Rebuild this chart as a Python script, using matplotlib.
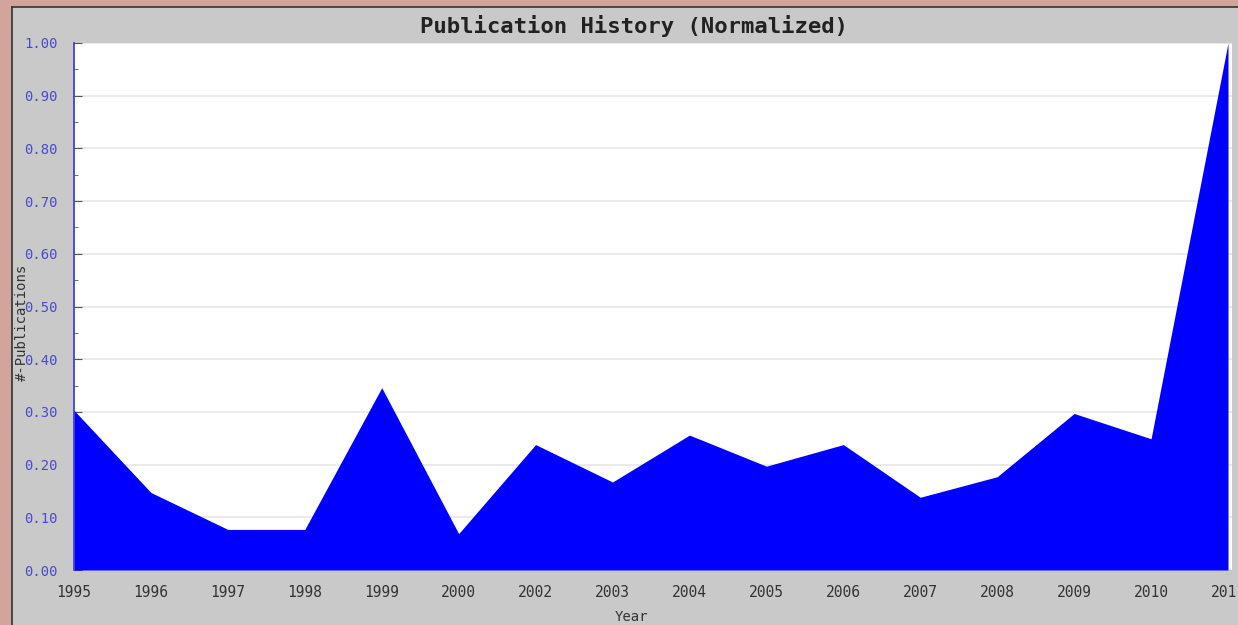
import matplotlib
matplotlib.use("Agg")
import matplotlib.pyplot as plt
from matplotlib.patches import Rectangle
import numpy as np

years = ["1995", "1996", "1997", "1998", "1999", "2000", "2002", "2003",
         "2004", "2005", "2006", "2007", "2008", "2009", "2010", "2011"]
values = [0.303, 0.147, 0.077, 0.077, 0.346, 0.069, 0.238, 0.167,
          0.256, 0.197, 0.238, 0.138, 0.177, 0.297, 0.249, 1.00]
yticks = [0.0, 0.1, 0.2, 0.3, 0.4, 0.5, 0.6, 0.7, 0.8, 0.9, 1.0]

W, H = 1238, 625
fig = plt.figure(figsize=(W / 100, H / 100), dpi=100)
fig.patch.set_facecolor("#d3a49b")

# gray panel
panel = Rectangle((12 / W, 0), 1 - 12 / W, 1 - 7 / H, transform=fig.transFigure,
                  facecolor="#c9c9c9", edgecolor="none", zorder=-5)
fig.add_artist(panel)
fig.add_artist(plt.Line2D([12 / W, 1], [1 - 7 / H, 1 - 7 / H], transform=fig.transFigure,
                          color="#333333", lw=1.2, zorder=-4))
fig.add_artist(plt.Line2D([12 / W, 12 / W], [0, 1 - 7 / H], transform=fig.transFigure,
                          color="#333333", lw=1.2, zorder=-4))

left, right, top, bottom = 74, 1232, 43, 570
ax = fig.add_axes([left / W, 1 - bottom / H, (right - left) / W, (bottom - top) / H])
ax.set_zorder(2)
ax.set_facecolor("white")

x = np.arange(len(years))
ax.fill_between(x, values, 0, color="#0000ff", lw=0, zorder=2)
ax.set_xlim(0, (right - left) / ((1228 - 74) / 15))
ax.set_ylim(0, 1.0)

ax.set_yticks(yticks)
ax.set_yticklabels([f"{v:.2f}" for v in yticks], color="#4a4acc",
                   fontfamily="DejaVu Sans Mono", fontsize=10)
ax.set_yticks(np.arange(0.05, 1.0, 0.1), minor=True)
ax.tick_params(axis="y", which="major", direction="in", length=6, color="#555555", pad=12)
ax.tick_params(axis="y", which="minor", direction="in", length=3, color="#555555")
ax.grid(axis="y", color="#e6e6e6", lw=1.2, zorder=1)
ax.set_axisbelow(True)

ax.set_xticks(x)
ax.set_xticklabels(years, color="#333333", fontfamily="DejaVu Sans Mono", fontsize=10.5)
ax.tick_params(axis="x", length=0, pad=11)

for s in ["top", "right", "bottom"]:
    ax.spines[s].set_visible(False)
ax.spines["left"].set_color("#3333dd")
ax.spines["left"].set_linewidth(1.2)
ax.spines["left"].set_zorder(3)

fig.text(634 / W, 1 - 26 / H, "Publication History (Normalized)", ha="center", va="center",
         fontfamily="DejaVu Sans Mono", fontsize=16, fontweight="bold", color="#222222")
fig.text(631 / W, 1 - 617 / H, "Year", ha="center", va="center",
         fontfamily="DejaVu Sans Mono", fontsize=10, color="#333333")
fig.text(22 / W, 1 - 322 / H, "#-Publications", ha="center", va="center", rotation=90,
         fontfamily="DejaVu Sans Mono", fontsize=10, color="#333333")

fig.savefig("out.png", dpi=100, facecolor=fig.get_facecolor())
